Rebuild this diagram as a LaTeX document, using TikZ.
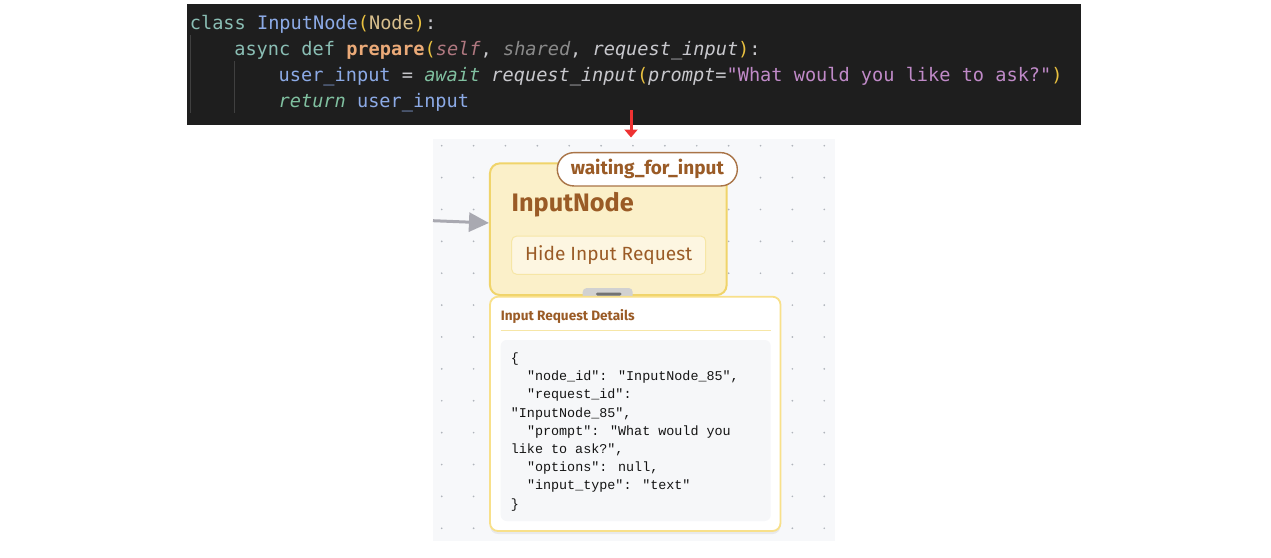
\documentclass[tikz,border=0pt]{standalone}
\usepackage{fontspec}
\setmainfont{Fira Sans}
\newfontfamily\codefont{DejaVu Sans Mono}
\newfontfamily\jsonfont{Liberation Mono}
\usetikzlibrary{positioning, arrows.meta, shadows}

\definecolor{codebg}{RGB}{30,30,30}
\definecolor{kwc}{RGB}{138,190,180}
\definecolor{clsc}{RGB}{140,170,230}
\definecolor{basec}{RGB}{215,190,140}
\definecolor{parc}{RGB}{232,192,64}
\definecolor{fnc}{RGB}{235,170,120}
\definecolor{selfc}{RGB}{176,120,128}
\definecolor{argc}{RGB}{138,138,138}
\definecolor{plainc}{RGB}{200,200,205}
\definecolor{itkwc}{RGB}{128,192,160}
\definecolor{strc}{RGB}{192,138,200}
\definecolor{guidec}{RGB}{64,64,64}
\definecolor{canvasc}{RGB}{247,248,250}
\definecolor{dotc}{RGB}{176,180,187}
\definecolor{brownc}{RGB}{154,91,38}
\definecolor{nodefill}{RGB}{251,240,201}
\definecolor{nodeline}{RGB}{240,212,106}
\definecolor{btnfill}{RGB}{253,246,225}
\definecolor{btnline}{RGB}{246,230,166}
\definecolor{panelline}{RGB}{248,224,138}
\definecolor{jsonfill}{RGB}{246,247,249}
\definecolor{redc}{RGB}{238,50,50}
\definecolor{grayarr}{RGB}{169,169,177}

\tikzset{
x=1pt, y=-1pt, % one unit is one pixel of the screenshot, y runs down
codeline/.style={anchor=base west, inner sep=0pt, text=plainc, font=\codefont\fontsize{18.6}{22}\selectfont},
jsonline/.style={anchor=base west, inner sep=0pt, text=black!92, font=\jsonfont\fontsize{13.4}{16}\selectfont},
flownode/.style={draw=nodeline, line width=2pt, fill=nodefill, rounded corners=10pt, minimum width=236.7pt, minimum height=131.7pt}, % the yellow node on the canvas
badge/.style={draw=brownc!85!white, line width=1.4pt, fill=white, rounded corners=16.5pt, minimum width=180pt, minimum height=33.3pt, inner sep=0pt, text=brownc, font=\bfseries\fontsize{19}{22}\selectfont},
button/.style={draw=btnline, line width=1pt, fill=btnfill, rounded corners=5pt, minimum width=194pt, minimum height=38.3pt, inner sep=0pt, text=brownc, font=\fontsize{19.1}{23}\selectfont},
detailpanel/.style={draw=panelline, line width=1.8pt, fill=white, rounded corners=8pt, minimum width=290.5pt, minimum height=234.3pt, drop shadow={opacity=0.12, shadow xshift=0pt, shadow yshift=-3pt}},
redarrow/.style={draw=redc, line width=3pt, -{Triangle[length=8pt, width=13pt]}},
grayarrow/.style={draw=grayarr, line width=3pt, -{Triangle[length=20pt, width=19pt]}},
}

\begin{document}
\begin{tikzpicture}
\useasboundingbox[fill=white] (0,0) rectangle (1271,557);

\node[fill=codebg, minimum width=894pt, minimum height=121pt, inner sep=0pt] (codepanel) at (634,64.5) {};
\draw[guidec, line width=1pt] (190.5,35) -- (190.5,113);
\draw[guidec, line width=1pt] (234.5,61) -- (234.5,113);
\node[codeline] (line1) at (189.7,29.5) {\textcolor{kwc}{class} \textcolor{clsc}{InputNode}\textcolor{parc}{(}\textcolor{basec}{Node}\textcolor{parc}{)}:};
\node[codeline] (line2) at (234.1,55.5) {\textcolor{kwc}{async def} \textcolor{fnc}{\bfseries prepare}\textcolor{parc}{(}\textcolor{selfc}{\itshape self}, \textcolor{argc}{\itshape shared}, {\itshape request\_input}\textcolor{parc}{)}:};
\node[codeline] (line3) at (278.5,81.5) {\textcolor{clsc}{user\_input} = \textcolor{itkwc}{\itshape await} {\itshape request\_input}\textcolor{parc}{(}{\itshape prompt}=\textcolor{strc}{"What would you like to ask?"}\textcolor{parc}{)}};
\node[codeline] (line4) at (278.5,107.5) {\textcolor{itkwc}{\itshape return} \textcolor{clsc}{user\_input}};

\node[fill=canvasc, minimum width=402pt, minimum height=402pt, inner sep=0pt] (canvas) at (634,340) {};
\foreach \i in {0,...,12}
  \foreach \j in {0,...,12}
    \fill[dotc] (441.7+31.88*\i, 145.7+31.88*\j) circle (0.95pt);

\coordinate (redtail) at (631,110);
\coordinate (redhead) at (631,137.5);
\draw[redarrow] (redtail) -- (redhead);

\node[flownode] (inputnode) at (608.3,229.2) {};
\coordinate (incoming) at (433,220.7);
\draw[grayarrow] (incoming) -- (inputnode.177);
\node[badge] (status) at (647.3,169.3) {waiting\_for\_input};
\node[anchor=base west, inner sep=0pt, text=brownc, font=\bfseries\fontsize{25.3}{30}\selectfont] (title) at (511.5,211.7) {InputNode};
\node[button] (hidebtn) at (608.7,255.2) {Hide Input Request};

\node[fill=black!18, rounded corners=4pt, minimum width=50pt, minimum height=14pt, inner sep=0pt] (handle) at (607.7,295) {};
\node[detailpanel] (details) at (635.25,413.85) {};
\node[fill=black!55, rounded corners=1.5pt, minimum width=25.7pt, minimum height=3pt, inner sep=0pt] (grip) at (608.8,294) {};
\node[anchor=base west, inner sep=0pt, text=brownc, font=\bfseries\fontsize{13.6}{16}\selectfont] (dtitle) at (500.7,320) {Input Request Details};
\draw[btnline, line width=1.2pt] (500.7,330.7) -- (770.7,330.7);
\node[fill=jsonfill, rounded corners=6pt, minimum width=270pt, minimum height=181pt, inner sep=0pt] (jsonbox) at (635.7,430.5) {};
\foreach \ind/\txt [count=\k] in {0/{\{}, 2/{"node\_id": "InputNode\_85",}, 2/{"request\_id":}, 0/{"InputNode\_85",}, 2/{"prompt": "What would you}, 0/{like to ask?",}, 2/{"options": null,}, 2/{"input\_type": "text"}, 0/{\}}}
  \node[jsonline] (json\k) at (510.7+8.07*\ind, 362.5+18.2*\k-18.2) {\txt};
\end{tikzpicture}
\end{document}
